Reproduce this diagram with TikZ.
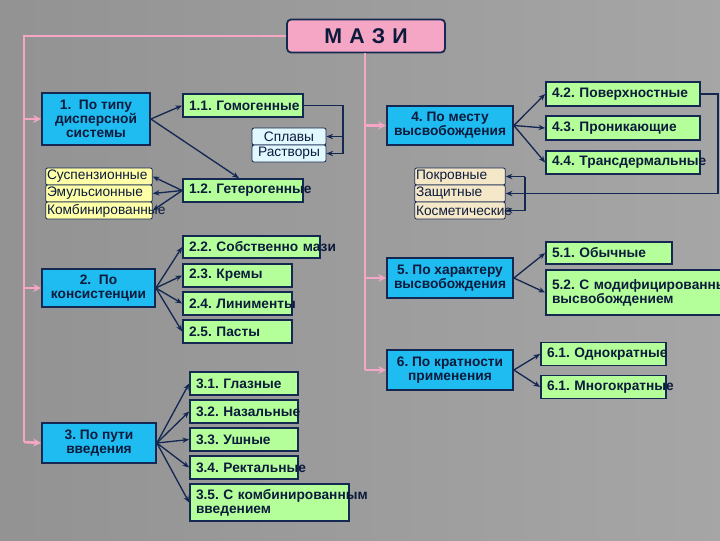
\documentclass[tikz,border=0pt]{standalone}
\usepackage{fontspec}
\setmainfont{Liberation Sans}
\usetikzlibrary{arrows.meta}
\definecolor{navy}{HTML}{142852}
\definecolor{txt}{HTML}{0C1A3C}
\definecolor{cy}{HTML}{1EBCF0}
\definecolor{gr}{HTML}{B4FF9A}
\definecolor{ye}{HTML}{FFFFA8}
\definecolor{lc}{HTML}{E2F8FF}
\definecolor{be}{HTML}{F5E8C8}
\definecolor{pk}{HTML}{F4A6C4}
\newcommand{\nb}[1]{\mbox{#1}}
\begin{document}
\frenchspacing
\begin{tikzpicture}[x=0.75pt,y=-0.75pt,
  sz/.style 2 args={minimum width=#1*0.75pt, minimum height=#2*0.75pt},
  base/.style={draw=navy, line width=1.3pt, inner sep=2pt, text=txt, font=\frenchspacing\bfseries\fontsize{10.3}{10.5}\selectfont},
  main/.style={base, fill=cy, align=center},
  leaf/.style 2 args={base, fill=gr, sz={#1}{#2}, text width=(#1-12)*0.75pt, align=left, inner sep=4pt},
  item/.style={draw=navy, line width=0.6pt, rounded corners=1.5pt, inner sep=1pt, text=txt, font=\fontsize{10.3}{10.5}\selectfont, align=left},
  ar/.style={draw=navy, line width=1pt, -{Stealth[length=5pt,width=4pt]}},
  pa/.style={draw=pk, line width=2pt, -{Stealth[length=6pt,width=6pt]}},
  pl/.style={draw=pk, line width=2pt}]
\shade[left color=gray!85, middle color=white!92!gray, right color=gray!70] (0,0) rectangle (720,540);
\useasboundingbox (0,0) rectangle (720,540);

\node[base, fill=pk, rounded corners=3pt, sz={158}{33}, font=\bfseries\fontsize{16}{18}\selectfont] (T) at (366,36) {М\,\,А\,\,З\,\,И};

\node[main, sz={108}{52}] (B1) at (96,119) {1.\ \ По типу\\дисперсной\\системы};
\node[main, sz={113}{38}] (B2) at (98.5,288) {2.\ \ По\\консистенции};
\node[main, sz={114}{40}] (B3) at (99,443) {3. По пути\\введения};
\node[main, sz={126}{39}] (B4) at (450,125.5) {4. По месту\\высвобождения};
\node[main, sz={126}{40}] (B5) at (450,278) {5. По характеру\\высвобождения};
\node[main, sz={126}{40}] (B6) at (450,370) {6. По кратности\\применения};

\node[leaf={120}{23}] (n11) at (243,105.5) {\nb{1.1. Гомогенные}};
\node[leaf={120}{23}] (n12) at (243,190.5) {\nb{1.2. Гетерогенные}};
\node[item, fill=lc, minimum width=74*0.75pt, minimum height=17*0.75pt] (spl) at (289,136.5) {Сплавы};
\node[item, fill=lc, minimum width=74*0.75pt, minimum height=17*0.75pt] (rast) at (289,153.5) {Растворы};
\node[item, fill=ye, text width=104*0.75pt, minimum height=17*0.75pt] (s1) at (99,176.5) {\nb{Суспензионные}};
\node[item, fill=ye, text width=104*0.75pt, minimum height=17*0.75pt] (s2) at (99,193.5) {\nb{Эмульсионные}};
\node[item, fill=ye, text width=104*0.75pt, minimum height=17*0.75pt] (s3) at (99,210.5) {\nb{Комбинированные}};

\node[leaf={154}{24}] (n42) at (623,94) {\nb{4.2. Поверхностные}};
\node[leaf={154}{24}] (n43) at (623,128) {\nb{4.3. Проникающие}};
\node[leaf={154}{23}] (n44) at (623,162.5) {\nb{4.4. Трансдермальные}};
\node[item, fill=be, text width=88*0.75pt, minimum height=17*0.75pt] (p1) at (460,176.5) {\nb{Покровные}};
\node[item, fill=be, text width=88*0.75pt, minimum height=17*0.75pt] (p2) at (460,193.5) {\nb{Защитные}};
\node[item, fill=be, text width=88*0.75pt, minimum height=17*0.75pt] (p3) at (460,210.5) {\nb{Косметические}};

\node[leaf={137}{22}] (n22) at (251.5,247) {\nb{2.2. Собственно мази}};
\node[leaf={109}{23}] (n23) at (237.5,275.5) {\nb{2.3. Кремы}};
\node[leaf={109}{23}] (n24) at (237.5,303.5) {\nb{2.4. Линименты}};
\node[leaf={109}{23}] (n25) at (237.5,331.5) {\nb{2.5. Пасты}};

\node[leaf={108}{23}] (n31) at (244,383.5) {\nb{3.1. Глазные}};
\node[leaf={108}{23}] (n32) at (244,411.5) {\nb{3.2. Назальные}};
\node[leaf={108}{23}] (n33) at (244,439.5) {\nb{3.3. Ушные}};
\node[leaf={108}{23}] (n34) at (244,467.5) {\nb{3.4. Ректальные}};
\node[leaf={159}{35}] (n35) at (269.5,502.5) {\nb{3.5. С комбинированным}\\введением};

\node[leaf={126}{22}] (n51) at (609,253) {\nb{5.1. Обычные}};
\node[leaf={188}{45}] (n52) at (640,292.5) {\nb{5.2. С модифицированным}\\высвобождением};
\node[leaf={125}{22}] (n61) at (603.5,354) {\nb{6.1. Однократные}};
\node[leaf={125}{22}] (n62) at (603.5,387) {\nb{6.1. Многократные}};

% pink trunk lines
\coordinate (L0) at (24,36);
\coordinate (L1) at (24,442);
\coordinate (R0) at (365,53);
\coordinate (R1) at (365,370);
\draw[pl] (T.west) -- (L0) -- (L1);
\draw[pa] (24,119) -- (B1.west);
\draw[pa] (24,288) -- (B2.west);
\draw[pa] (L1) -- (B3.west);
\draw[pl] (R0) -- (R1);
\draw[pa] (365,125.5) -- (B4.west);
\draw[pa] (365,278) -- (B5.west);
\draw[pa] (R1) -- (B6.west);

% connectors
\draw[ar] (B1.east) -- (n11.west);
\draw[ar] (B1.east) -- ([xshift=-3pt]n12.north);
\foreach \n in {s1,s2,s3} \draw[ar] (n12.west) -- (\n.east);
\coordinate (c1) at (343,105.5);
\draw[ar] (n11.east) -- (c1) |- (rast.east);
\draw[ar] (343,136.5) -- (spl.east);

\foreach \n in {n22,n23,n24,n25} \draw[ar] (B2.east) -- (\n.west);
\foreach \n in {n31,n32,n33,n34,n35} \draw[ar] (B3.east) -- (\n.west);
\foreach \n in {n42,n43,n44} \draw[ar] (B4.east) -- (\n.west);
\foreach \n in {n51,n52} \draw[ar] (B5.east) -- (\n.west);
\foreach \n in {n61,n62} \draw[ar] (B6.east) -- (\n.west);

\coordinate (c4) at (718,94);
\draw[ar] (n42.east) -- (c4) |- (p2.east);
\draw[navy, line width=0.8pt] (525,176.5) -- (525,210.5);
\draw[ar] (525,176.5) -- (p1.east);
\draw[ar] (525,210.5) -- (p3.east);
\end{tikzpicture}
\end{document}
